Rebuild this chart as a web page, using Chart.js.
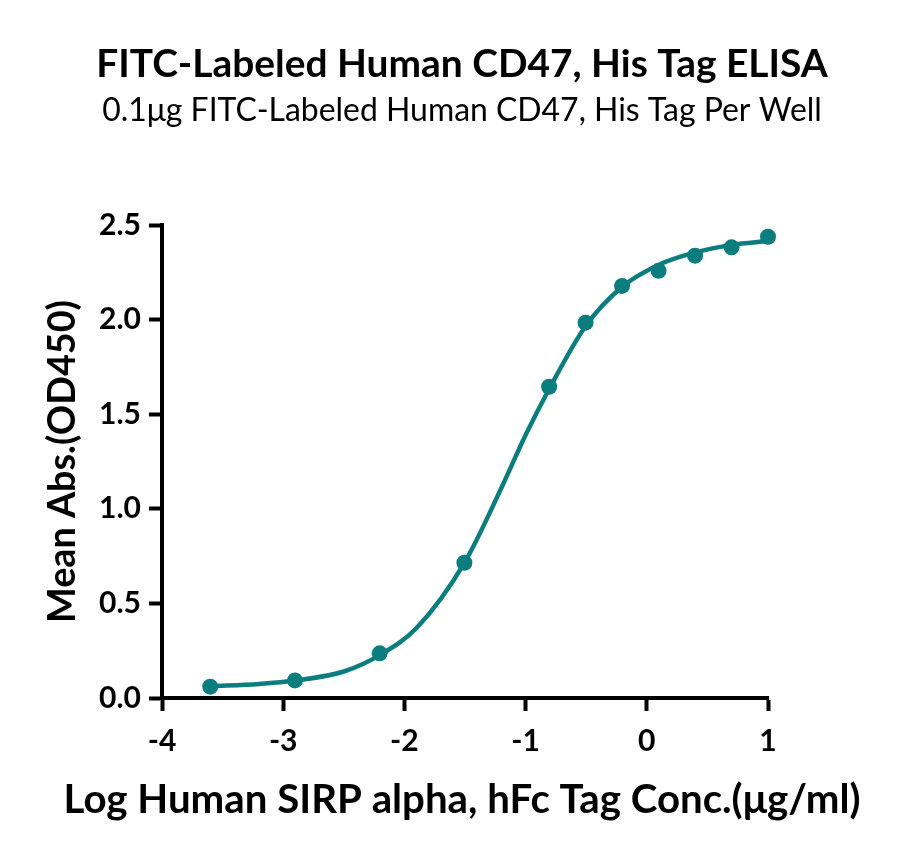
<!DOCTYPE html>
<html>
<head>
<meta charset="utf-8">
<title>FITC-Labeled Human CD47, His Tag ELISA</title>
<script src="https://cdn.jsdelivr.net/npm/chart.js@4.4.1/dist/chart.umd.min.js"></script>
<style>
  html, body { margin: 0; padding: 0; background: #fff; }
</style>
</head>
<body>
<canvas id="elisaChart" width="900" height="855"></canvas>
<script>
// Measured points (log concentration, mean OD450)
const logConc = [-3.602, -2.903, -2.204, -1.505, -0.806, -0.505, -0.204, 0.097, 0.398, 0.699, 1.0];
const meanAbs = [0.060, 0.093, 0.236, 0.715, 1.645, 1.984, 2.178, 2.258, 2.338, 2.382, 2.438];

// Fitted curve
const fitX = [-3.6, -3.2, -2.9, -2.5, -2.2, -1.9, -1.5, -1.2, -1.0, -0.8, -0.5, -0.2, 0.1, 0.4, 0.7, 1.0];
const fitY = [0.062, 0.074, 0.092, 0.140, 0.228, 0.370, 0.720, 1.110, 1.390, 1.640, 1.970, 2.175, 2.290, 2.355, 2.395, 2.415];

const xTicks = [-4, -3, -2, -1, 0, 1];
const yTicks = [0, 0.5, 1.0, 1.5, 2.0, 2.5];

const titleText = "FITC-Labeled Human CD47, His Tag ELISA";
const subtitleText = "0.1μg FITC-Labeled Human CD47, His Tag Per Well";
const xTitleText = "Log Human SIRP alpha, hFc Tag Conc.(μg/ml)";
const yTitleText = "Mean Abs.(OD450)";

const teal = "#0b7d7e";
const family = "Lato, 'Noto Sans', sans-serif";

// font size that gives the text the width it has in the reference
function fitSize(text, weight, width) {
  const ctx = document.createElement("canvas").getContext("2d");
  ctx.font = `${weight} 100px ${family}`;
  return (100 * width) / ctx.measureText(text).width;
}

const titleSize = fitSize(titleText, "bold", 732);
const subSize = fitSize(subtitleText, "normal", 720);
const xTitleSize = fitSize(xTitleText, "bold", 797);
const yTitleSize = fitSize(yTitleText, "bold", 323);
const tickSize = fitSize("2.5", "bold", 42);

const titleMid = 64;
const subMid = 110.5;
const xTitleMid = 800;
const leftPad = 24;

// x axis caption is wider than the plot, so it gets its own title box under the axis
const TitleBox = Chart.Title._element;
const xCaption = {
  id: "xCaption",
  start(chart, _args, opts) {
    const box = new TitleBox({ ctx: chart.ctx, options: opts, chart: chart });
    Chart.layouts.configure(chart, box, opts);
    Chart.layouts.addBox(chart, box);
    chart.$xCaption = box;
  },
  beforeUpdate(chart, _args, opts) {
    Chart.layouts.configure(chart, chart.$xCaption, opts);
    chart.$xCaption.options = opts;
  },
  defaults: {
    align: "center",
    display: true,
    fullSize: true,
    position: "bottom",
    weight: 2000,
    padding: 0,
    text: "",
    color: "#000",
    font: { weight: "bold" },
  },
};

new Chart(document.getElementById("elisaChart"), {
  type: "line",
  plugins: [xCaption],
  data: {
    datasets: [
      {
        data: fitX.map((x, i) => ({ x: x, y: fitY[i] })),
        yAxisID: "y",
        borderColor: teal,
        borderWidth: 4.5,
        pointRadius: 0,
        cubicInterpolationMode: "monotone",
        fill: false,
        clip: false,
        order: 2,
      },
      {
        data: logConc.map((x, i) => ({ x: x, y: meanAbs[i] })),
        yAxisID: "y",
        showLine: false,
        backgroundColor: teal,
        borderColor: teal,
        borderWidth: 0,
        pointRadius: 8,
        clip: false,
        order: 1,
      },
    ],
  },
  options: {
    responsive: false,
    animation: false,
    layout: { padding: { top: 0, left: leftPad, right: 0, bottom: 0 } },
    plugins: {
      legend: { display: false },
      tooltip: { enabled: false },
      title: {
        display: true,
        text: titleText,
        color: "#000",
        font: { family: family, size: titleSize, weight: "bold", lineHeight: 1.2 },
        padding: { top: titleMid - titleSize * 0.6, bottom: 0 },
      },
      subtitle: {
        display: true,
        text: subtitleText,
        color: "#000",
        font: { family: family, size: subSize, weight: "normal", lineHeight: 1.2 },
        padding: {
          top: subMid - subSize * 0.6 - (titleMid + titleSize * 0.6),
          bottom: 225 - (subMid + subSize * 0.6),
        },
      },
      xCaption: {
        text: xTitleText,
        color: "#000",
        font: { family: family, size: xTitleSize, weight: "bold", lineHeight: 1.2 },
        padding: { top: 0, bottom: 855 - xTitleMid - xTitleSize * 0.6 },
      },
    },
    scales: {
      x: {
        type: "linear",
        min: -4,
        max: 1,
        afterBuildTicks: (s) => { s.ticks = xTicks.map((v) => ({ value: v })); },
        afterFit: (s) => { s.height = xTitleMid - xTitleSize * 0.6 - 698; },
        border: { display: true, color: "#000", width: 4 },
        grid: { display: true, drawOnChartArea: false, drawTicks: true, tickLength: 13, tickWidth: 4, tickColor: "#000" },
        ticks: {
          color: "#000",
          autoSkip: false,
          maxRotation: 0,
          padding: 741 - 711 - tickSize * 0.6,
          font: { family: family, size: tickSize, weight: "bold", lineHeight: 1.2 },
        },
      },
      y: {
        min: 0,
        max: 2.5,
        afterBuildTicks: (s) => { s.ticks = yTicks.map((v) => ({ value: v })); },
        afterFit: (s) => { s.width = 162 - leftPad; },
        border: { display: true, color: "#000", width: 4 },
        grid: { display: true, drawOnChartArea: false, drawTicks: true, tickLength: 13, tickWidth: 4, tickColor: "#000" },
        ticks: {
          color: "#000",
          padding: 8,
          callback: (v) => v.toFixed(1),
          font: { family: family, size: tickSize, weight: "bold", lineHeight: 1.2 },
        },
        title: {
          display: true,
          text: yTitleText,
          color: "#000",
          font: { family: family, size: yTitleSize, weight: "bold", lineHeight: 1.2 },
          padding: { top: 63 - leftPad - yTitleSize * 0.6, bottom: 0 },
        },
      },
      // empty strip on the right, keeps the plot at the reference width
      rightMargin: {
        position: "right",
        axis: "y",
        display: true,
        afterFit: (s) => { s.width = 132; },
        grid: { display: false },
        border: { display: false },
        ticks: { display: false },
      },
    },
  },
});
</script>
</body>
</html>
